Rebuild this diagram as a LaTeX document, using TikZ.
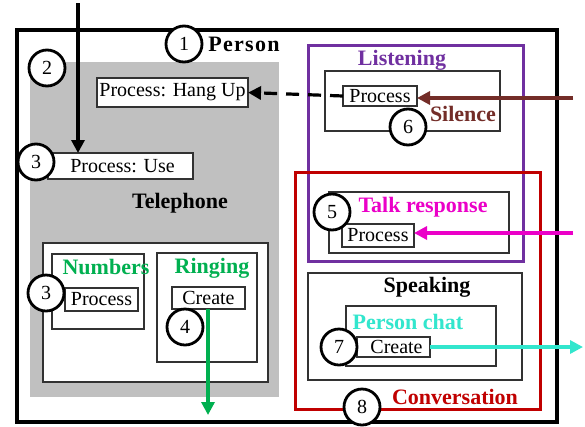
\documentclass[tikz,border=0pt]{standalone}
\usepackage{fontspec}
\setmainfont{Liberation Serif}
\usetikzlibrary{arrows.meta}
\definecolor{grn}{RGB}{0,176,80}
\definecolor{purp}{RGB}{112,48,160}
\definecolor{redc}{RGB}{192,0,0}
\definecolor{mag}{RGB}{235,0,200}
\definecolor{turq}{RGB}{50,230,205}
\definecolor{brn}{RGB}{115,45,40}
\definecolor{graybg}{RGB}{192,192,192}
\definecolor{edge}{RGB}{50,50,50}
\begin{document}
\begin{tikzpicture}[x=1pt,y=-1pt,
  box/.style={draw=edge,line width=1.4pt,fill=white,inner sep=0pt,outer sep=0pt},
  pbox/.style={box,font=\fontsize{20}{22}\selectfont},
  num/.style={circle,draw=black,line width=2.8pt,fill=white,minimum size=36pt,inner sep=0pt,font=\fontsize{20}{22}\selectfont},
  lbl/.style={font=\fontsize{22}{24}\selectfont\bfseries,inner sep=0pt},
  arr/.style={line width=3.2pt,-{Triangle[length=13pt,width=13pt]}}]
\useasboundingbox (0,0) rectangle (585,426);
% outer person box
\node[draw=black,line width=4.5pt,minimum width=540pt,minimum height=392pt,inner sep=0pt] (person) at (287,226) {};
% telephone gray area
\node[fill=graybg,minimum width=249pt,minimum height=335pt,inner sep=0pt] (tel) at (154.5,229.5) {};
\node[pbox,minimum width=151pt,minimum height=29pt] (hangup) at (172.5,92.5) {Process: Hang Up};
\node[pbox,minimum width=145pt,minimum height=26pt] (use) at (120.5,166) {\hspace*{4pt}Process: Use};
\node[box,minimum width=225pt,minimum height=139pt] (inner) at (155.5,312.5) {};
\node[box,minimum width=92pt,minimum height=75pt] (numbers) at (98,291.5) {};
\node[pbox,minimum width=73pt,minimum height=23pt] (numproc) at (101.5,299.5) {Process};
\node[box,minimum width=100pt,minimum height=109pt] (ringing) at (207,307.5) {};
\node[pbox,minimum width=73pt,minimum height=22pt] (ringcreate) at (208.5,298) {Create};
% listening
\node[draw=purp,line width=3pt,minimum width=215pt,minimum height=216pt,inner sep=0pt] (listening) at (415.5,153) {};
\node[box,minimum width=175pt,minimum height=60pt] (silence) at (412.5,101) {};
\node[pbox,minimum width=74pt,minimum height=20pt] (listproc) at (380,96) {Process};
% conversation
\node[draw=redc,line width=3pt,minimum width=245pt,minimum height=237pt,inner sep=0pt] (conv) at (417.5,290.5) {};
\node[box,minimum width=180pt,minimum height=61pt] (talk) at (419,222.5) {};
\node[pbox,minimum width=72pt,minimum height=23pt] (talkproc) at (378,235.5) {Process};
\node[box,line width=2.2pt,minimum width=214pt,minimum height=107pt] (speaking) at (415,326.5) {};
\node[box,minimum width=150pt,minimum height=60pt] (chat) at (421,336) {};
\node[pbox,minimum width=73pt,minimum height=20pt] (chatcreate) at (393.5,347) {\hspace*{6pt}Create};
% labels
\node[lbl] (lperson) at (244,44) {\addfontfeature{LetterSpace=6}Person};
\node[lbl] (ltel) at (180,203) {Telephone};
\node[lbl,text=grn] (lnum) at (106,267) {Numbers};
\node[lbl,text=grn] (lring) at (212,268) {Ringing};
\node[lbl,text=purp] (llist) at (402,60) {Listening};
\node[lbl,text=brn] (lsil) at (463,114) {Silence};
\node[lbl,text=mag] (ltalk) at (423,207) {Talk response};
\node[lbl] (lspeak) at (427,287) {Speaking};
\node[lbl,text=turq] (lchat) at (408,322) {Person chat};
\node[lbl,text=redc] (lconv) at (455,397) {Conversation};
% arrows
\coordinate (top) at (78,3);
\draw[arr] (top) -- (top |- use.north);
\draw[arr,dash pattern=on 13pt off 9pt] (listproc.west) -- (hangup.east);
\coordinate (brnstart) at (573,98);
\draw[arr,draw=brn,fill=brn] (brnstart) -- (brnstart -| listproc.east);
\coordinate (magstart) at (573,233);
\draw[arr,draw=mag,fill=mag] (magstart) -- (magstart -| talkproc.east);
\coordinate (grnend) at (208,415);
\draw[arr,draw=grn,fill=grn] (grnend |- ringcreate.south) -- (grnend);
\coordinate (turqend) at (583,349);
\draw[arr,draw=turq,fill=turq] (chatcreate.east) -- (turqend |- chatcreate.east);
% numbered circles
\node[num] (c1) at (184,44) {1};
\node[num] (c2) at (47,68) {2};
\node[num] (c3a) at (36,162) {3};
\node[num] (c3b) at (46,293) {3};
\node[num] (c4) at (185,327) {4};
\node[num] (c5) at (332,212) {5};
\node[num] (c6) at (408,127) {6};
\node[num] (c7) at (339,347) {7};
\node[num] (c8) at (362,407) {8};
\end{tikzpicture}
\end{document}
